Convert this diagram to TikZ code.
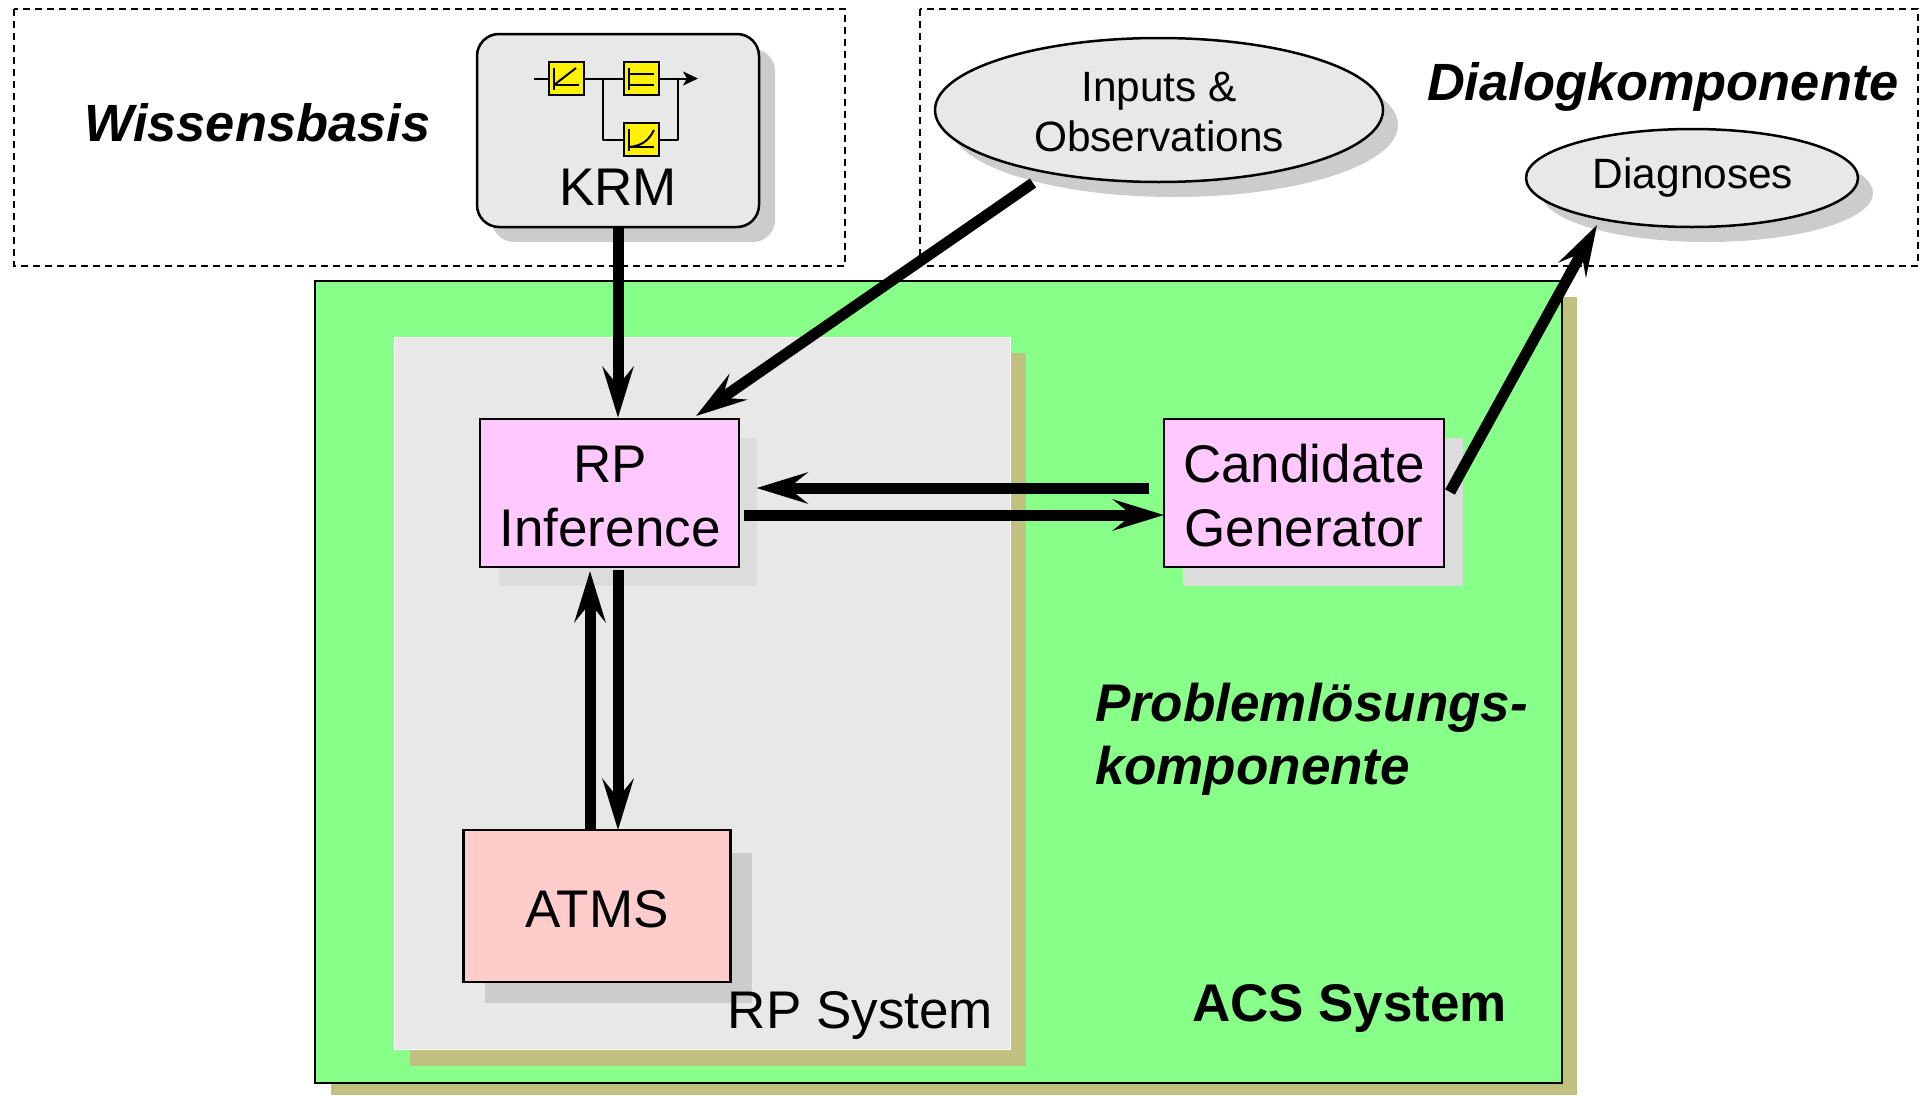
\documentclass[tikz,border=0pt]{standalone}
\usepackage{fontspec}
\setmainfont{Liberation Sans}
\usetikzlibrary{arrows.meta,shapes.geometric,calc}
\definecolor{cgreen}{HTML}{88FF88}
\definecolor{cgrey}{HTML}{E8E8E8}
\definecolor{colive}{HTML}{C0C080}
\definecolor{cpink}{HTML}{FFC8FF}
\definecolor{csalmon}{HTML}{FFCCCC}
\definecolor{cshadow}{HTML}{CCCCCC}
\definecolor{csoft}{HTML}{DCDCDC}
\tikzset{
  rectbox/.style={anchor=north west,inner sep=0pt,outer sep=0pt},
  dashbox/.style={draw,line width=1.6pt,dash pattern=on 7pt off 5pt},
  conn/.style={line width=11pt,-{Stealth[length=51pt,width=31pt,inset=19pt]}},
  bareline/.style={line width=11pt},
  blockframe/.style={draw,line width=2.5pt},
  icon/.style={draw,fill=yellow,line width=2pt,minimum width=35pt,minimum height=33pt,inner sep=0pt},
  iconline/.style={line width=2pt},
  glyph/.style={line width=2pt},
  label/.style={inner sep=0pt,outer sep=0pt,text depth=0pt},
  big/.style={font=\fontsize{53}{64}\selectfont},
  mid/.style={font=\fontsize{42.4}{50}\selectfont},
}
\begin{document}
\begin{tikzpicture}[x=1pt,y=-1pt]
\useasboundingbox (0,0) rectangle (1929,1095);
% dashed regions
\draw[dashbox] (14,9) rectangle (845,266);
\draw[dashbox] (920,9) rectangle (1918,266);
% ACS system
\fill[colive] (331,297) rectangle (1577,1095);
\draw[fill=cgreen,line width=2.5pt] (315,281) rectangle (1562,1083);
% RP System
\fill[colive] (410,353) rectangle (1026,1066);
\fill[cgrey] (394,337) rectangle (1010,1049);
\draw[white,line width=1pt] (394,337) rectangle (1010,1049);
% KRM
\fill[cshadow,rounded corners=22pt] (492,49) rectangle (775,242);
\node[blockframe,fill=cgrey,rounded corners=22pt,minimum width=282pt,minimum height=193pt,inner sep=0pt] (krm) at (618,130.5) {};
\node[label,big,anchor=base] (krmt) at (618,205) {KRM};
% inputs
\fill[cshadow] (1174,125) ellipse [x radius=224pt,y radius=72pt];
\node[ellipse,draw,fill=cgrey,line width=2.5pt,minimum width=448pt,minimum height=144pt,inner sep=0pt] (inp) at (1159,110) {};
\node[label,mid,anchor=base] (inpa) at (1159,101) {Inputs \&};
\node[label,mid,anchor=base] (inpb) at (1159,151) {Observations};
% diagnoses
\fill[cshadow] (1707,193) ellipse [x radius=166pt,y radius=49pt];
\node[ellipse,draw,fill=cgrey,line width=2.5pt,minimum width=332pt,minimum height=98pt,inner sep=0pt] (diag) at (1692,178) {};
\node[label,mid,anchor=base] at (1693,188) {Diagnoses};
% RP inference
\fill[csoft] (499,438) rectangle (757,586);
\node[blockframe,fill=cpink,minimum width=259pt,minimum height=148pt,inner sep=0pt] (rp) at (609.5,493) {};
\node[label,big,anchor=base] at (610,482) {RP};
\node[label,big,anchor=base] at (610,546) {Inference};
% candidate
\fill[csoft] (1183,438) rectangle (1463,586);
\node[blockframe,fill=cpink,minimum width=280pt,minimum height=148pt,inner sep=0pt] (cand) at (1304,493) {};
\node[label,big,anchor=base] at (1304,482) {Candidate};
\node[label,big,anchor=base] at (1304,546) {Generator};
% ATMS
\fill[cshadow] (485,853) rectangle (752,1003);
\node[blockframe,fill=csalmon,minimum width=267pt,minimum height=152pt,inner sep=0pt] (atms) at (597,906) {};
\node[label,big,anchor=base] at (597,927) {ATMS};
% labels
\node[label,font=\fontsize{52.4}{60}\selectfont\bfseries\itshape,anchor=base west] at (84,141) {Wissensbasis};
\node[label,font=\fontsize{52.4}{60}\selectfont\bfseries\itshape,anchor=base west] at (1427,100) {Dialogkomponente};
\node[label,font=\fontsize{53}{60}\selectfont\bfseries\itshape,anchor=base west] at (1095,721) {Problemlösungs-};
\node[label,font=\fontsize{53}{60}\selectfont\bfseries\itshape,anchor=base west] at (1095,784) {komponente};
\node[label,big,anchor=base east] at (993,1028) {RP System};
\node[label,font=\fontsize{53}{60}\selectfont\bfseries,anchor=base west] at (1192,1021) {ACS System};
% connector ends
\coordinate (inpout) at (1033,183);
\coordinate (rpin) at (696,416);
\coordinate (candout) at (1450,492);
\coordinate (diagin) at (1597,225);
\coordinate (candl) at (1149,488);
\coordinate (rpr) at (756.5,488);
\coordinate (rpr2) at (744,515);
\coordinate (candl2) at (1164,515);
\coordinate (atmsU) at (590,830);
\coordinate (rpU) at (590,571);
\coordinate (rpD) at (618,570);
\coordinate (atmsD) at (618,830);
% connectors
\draw[conn] (krm.south) -- (krm.south |- rp.north);
\draw[conn] (inpout) -- (rpin);
\draw[conn] (candout) -- (diagin);
\draw[conn] (candl) -- (rpr);
\draw[conn] (rpr2) -- (candl2);
\draw[conn] (atmsU) -- (rpU);
\draw[conn] (rpD) -- (atmsD);
% KRM icon
\coordinate (w0) at (534,78.5);
\coordinate (wb) at (603,78.5);
\coordinate (wc) at (678,78.5);
\coordinate (wend) at (698,78.5);
\coordinate (wd) at (603,140);
\coordinate (we) at (678,140);
\draw[iconline] (w0) -- (wb) -- (wc);
\draw[iconline,-{Stealth[length=15pt,width=14pt,inset=4pt]}] (wc) -- (wend);
\draw[iconline,line join=round] (wb) -- (wd) -- (we) -- (wc);
\node[icon] (i1) at (566.5,78.5) {};
\node[icon] (i2) at (641.5,78.5) {};
\node[icon] (i3) at (641.5,139.5) {};
\draw[glyph] (554,68) -- (554,90);
\draw[glyph] (554,85) -- (579,85);
\draw[glyph] (554,85) -- (576,68);
\draw[glyph] (629,68) -- (629,90);
\draw[glyph] (629,74) -- (654,74);
\draw[glyph] (629,85) -- (654,85);
\draw[glyph] (629,129) -- (629,151);
\draw[glyph] (629,147) -- (654,147);
\draw[glyph] (629,147) .. controls (642,146) and (649,140) .. (654,130);
\end{tikzpicture}
\end{document}
